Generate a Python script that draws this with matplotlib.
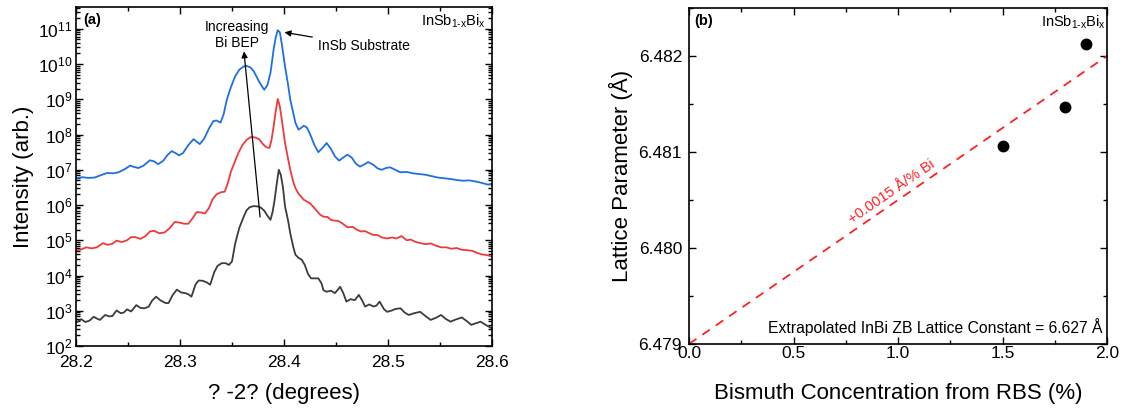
import numpy as np
import matplotlib
matplotlib.use("Agg")
import matplotlib.pyplot as plt
from matplotlib.ticker import LogLocator, MultipleLocator, NullFormatter, FormatStrFormatter

plt.rcParams["font.family"] = ["Liberation Sans", "DejaVu Sans"]
plt.rcParams["mathtext.fontset"] = "custom"
plt.rcParams["mathtext.rm"] = "Liberation Sans"
plt.rcParams["mathtext.it"] = "Liberation Sans:italic"
plt.rcParams["mathtext.bf"] = "Liberation Sans:bold"

# ---- (a) omega-2theta scans: angle (deg) and log10 intensity ----
blue_x = [28.200, 28.206, 28.212, 28.218, 28.224, 28.230, 28.236, 28.241, 28.247, 28.252,
          28.256, 28.260, 28.265, 28.271, 28.275, 28.279, 28.284, 28.288, 28.292, 28.296,
          28.299, 28.303, 28.308, 28.313, 28.316, 28.319, 28.323, 28.328, 28.332, 28.335,
          28.339, 28.342, 28.345, 28.349, 28.353, 28.357, 28.361, 28.364, 28.368, 28.371,
          28.374, 28.377, 28.381, 28.384, 28.387, 28.390, 28.392, 28.394, 28.396, 28.398,
          28.401, 28.404, 28.406, 28.409, 28.411, 28.414, 28.417, 28.419, 28.422, 28.425,
          28.429, 28.433, 28.437, 28.441, 28.445, 28.449, 28.453, 28.457, 28.461, 28.465,
          28.469, 28.473, 28.477, 28.481, 28.486, 28.490, 28.494, 28.498, 28.502, 28.507,
          28.512, 28.518, 28.524, 28.530, 28.536, 28.542, 28.548, 28.554, 28.560, 28.566,
          28.572, 28.578, 28.584, 28.590, 28.596, 28.600]
blue_log = [6.76, 6.79, 6.77, 6.78, 6.85, 6.91, 6.90, 6.93, 7.02, 7.12,
            7.08, 7.05, 7.12, 7.27, 7.24, 7.16, 7.26, 7.42, 7.53, 7.47,
            7.41, 7.48, 7.70, 7.87, 7.80, 7.73, 7.87, 8.18, 8.38, 8.40,
            8.34, 8.58, 8.99, 9.35, 9.65, 9.84, 9.93, 9.95, 9.90, 9.79,
            9.62, 9.45, 9.27, 9.40, 9.75, 10.41, 10.75, 10.96, 10.90, 10.55,
            9.93, 9.40, 8.99, 8.60, 8.33, 8.14, 8.20, 8.25, 8.20, 8.02,
            7.72, 7.50, 7.62, 7.76, 7.60, 7.38, 7.26, 7.35, 7.43, 7.35,
            7.18, 7.09, 7.15, 7.22, 7.14, 7.04, 7.00, 7.05, 7.07, 7.00,
            6.93, 6.94, 6.90, 6.88, 6.86, 6.82, 6.78, 6.76, 6.74, 6.71,
            6.69, 6.70, 6.67, 6.63, 6.58, 6.60]

red_x = [28.200, 28.205, 28.210, 28.215, 28.220, 28.226, 28.230, 28.235, 28.239, 28.244,
         28.249, 28.253, 28.257, 28.262, 28.267, 28.271, 28.275, 28.280, 28.285, 28.290,
         28.295, 28.300, 28.304, 28.308, 28.312, 28.316, 28.320, 28.324, 28.328, 28.331,
         28.335, 28.339, 28.343, 28.346, 28.349, 28.353, 28.356, 28.360, 28.364, 28.368,
         28.372, 28.376, 28.380, 28.383, 28.386, 28.388, 28.390, 28.392, 28.394, 28.396,
         28.398, 28.401, 28.404, 28.406, 28.409, 28.411, 28.414, 28.417, 28.419, 28.422,
         28.425, 28.429, 28.432, 28.435, 28.438, 28.442, 28.445, 28.448, 28.452, 28.456,
         28.461, 28.466, 28.470, 28.474, 28.478, 28.482, 28.486, 28.490, 28.494, 28.499,
         28.504, 28.508, 28.513, 28.518, 28.522, 28.526, 28.531, 28.536, 28.541, 28.546,
         28.551, 28.556, 28.561, 28.566, 28.571, 28.576, 28.581, 28.586, 28.590, 28.595,
         28.600]
red_log = [4.71, 4.74, 4.80, 4.77, 4.80, 4.92, 4.87, 4.90, 4.99, 4.95,
           5.00, 5.09, 5.09, 5.04, 5.12, 5.25, 5.27, 5.20, 5.22, 5.34,
           5.52, 5.50, 5.47, 5.47, 5.62, 5.80, 5.79, 5.76, 5.92, 6.15,
           6.30, 6.36, 6.38, 6.62, 6.95, 7.25, 7.47, 7.70, 7.85, 7.93,
           7.92, 7.87, 7.72, 7.64, 7.62, 7.85, 8.23, 8.65, 9.01, 8.80,
           8.40, 7.76, 7.30, 7.00, 6.65, 6.48, 6.32, 6.22, 6.15, 6.10,
           6.05, 5.92, 5.82, 5.72, 5.67, 5.66, 5.58, 5.56, 5.55, 5.48,
           5.37, 5.38, 5.30, 5.25, 5.26, 5.20, 5.15, 5.15, 5.08, 5.05,
           5.08, 5.05, 5.12, 5.00, 5.02, 4.96, 4.92, 4.89, 4.91, 4.85,
           4.80, 4.80, 4.76, 4.78, 4.73, 4.72, 4.70, 4.64, 4.60, 4.58,
           4.54]

black_x = [28.200, 28.205, 28.209, 28.213, 28.217, 28.220, 28.223, 28.228, 28.232, 28.235,
           28.239, 28.243, 28.246, 28.249, 28.253, 28.258, 28.262, 28.266, 28.270, 28.273,
           28.277, 28.281, 28.286, 28.289, 28.293, 28.297, 28.301, 28.305, 28.308, 28.311,
           28.315, 28.318, 28.322, 28.326, 28.329, 28.333, 28.336, 28.340, 28.344, 28.347,
           28.350, 28.353, 28.357, 28.361, 28.364, 28.367, 28.371, 28.375, 28.378, 28.381,
           28.384, 28.387, 28.389, 28.391, 28.393, 28.395, 28.397, 28.399, 28.401, 28.404,
           28.406, 28.409, 28.411, 28.414, 28.417, 28.420, 28.423, 28.426, 28.430, 28.433,
           28.436, 28.438, 28.441, 28.445, 28.449, 28.454, 28.457, 28.460, 28.464, 28.468,
           28.472, 28.475, 28.478, 28.482, 28.486, 28.489, 28.492, 28.496, 28.499, 28.503,
           28.507, 28.512, 28.516, 28.520, 28.525, 28.531, 28.536, 28.541, 28.546, 28.551,
           28.555, 28.560, 28.565, 28.571, 28.576, 28.580, 28.585, 28.589, 28.595, 28.600]
black_log = [2.66, 2.76, 2.68, 2.72, 2.83, 2.78, 2.74, 2.88, 2.84, 2.85,
             3.01, 2.93, 2.95, 3.04, 2.98, 3.16, 3.08, 3.07, 3.12, 3.28,
             3.40, 3.30, 3.22, 3.22, 3.45, 3.60, 3.52, 3.50, 3.47, 3.40,
             3.75, 3.86, 3.85, 3.80, 3.74, 4.10, 4.27, 4.35, 4.35, 4.30,
             4.40, 4.90, 5.35, 5.65, 5.85, 5.94, 5.97, 5.96, 5.92, 5.84,
             5.70, 5.58, 5.80, 6.15, 6.60, 7.00, 6.85, 6.50, 5.96, 5.55,
             5.20, 4.80, 4.59, 4.50, 4.45, 4.30, 4.05, 3.92, 3.92, 3.92,
             3.78, 3.58, 3.54, 3.57, 3.50, 3.68, 3.50, 3.26, 3.33, 3.30,
             3.45, 3.30, 3.12, 3.18, 3.12, 3.15, 3.26, 3.05, 2.97, 3.00,
             3.05, 3.07, 2.95, 2.88, 2.93, 2.97, 2.85, 2.74, 2.80, 2.88,
             2.78, 2.69, 2.75, 2.81, 2.70, 2.60, 2.65, 2.69, 2.58, 2.50]

# ---- (b) lattice parameter vs Bi concentration ----
bi_conc = [1.5, 1.8, 1.9]             # %
lattice = [6.48106, 6.48147, 6.48212]  # Angstrom
fit_intercept = 6.479                  # Angstrom
fit_slope = 0.0015                     # Angstrom per % Bi
fit_x = [0.0, 2.0]

BLUE = "#1f6fe0"
RED = "#f03a3a"
GREY = "#3c3c3c"

fig = plt.figure(figsize=(11.22, 4.08), dpi=100)
axa = fig.add_axes([76 / 1122, 1 - 346 / 408, (492 - 76) / 1122, (346 - 7) / 408])
axb = fig.add_axes([689 / 1122, 1 - 344 / 408, (1107 - 689) / 1122, (344 - 8) / 408])

for ax in (axa, axb):
    for s in ax.spines.values():
        s.set_linewidth(1.2)
    ax.tick_params(which="both", direction="in", top=True, right=True, width=1.0,
                   labelsize=12.5, pad=4)
    ax.tick_params(which="major", length=5)
    ax.tick_params(which="minor", length=3)
axa.tick_params(axis="x", which="both", pad=6.5)
axa.tick_params(axis="y", which="both", pad=2.5)
axb.tick_params(axis="x", which="both", pad=1.5)
axb.tick_params(axis="y", which="both", pad=5)

# panel (a)
axa.plot(black_x, 10 ** np.array(black_log), color=GREY, lw=1.3)
axa.plot(red_x, 10 ** np.array(red_log), color=RED, lw=1.3)
axa.plot(blue_x, 10 ** np.array(blue_log), color=BLUE, lw=1.3)
axa.set_yscale("log")
axa.set_xlim(28.2, 28.6)
axa.set_ylim(1e2, 10 ** 11.62)
axa.xaxis.set_major_locator(MultipleLocator(0.1))
axa.xaxis.set_minor_locator(MultipleLocator(0.05))
axa.xaxis.set_major_formatter(FormatStrFormatter("%.1f"))
axa.yaxis.set_major_locator(LogLocator(base=10, numticks=20))
axa.yaxis.set_minor_locator(LogLocator(base=10, subs=np.arange(2, 10), numticks=20))
axa.yaxis.set_minor_formatter(NullFormatter())
axa.set_xlabel("? -2? (degrees)", fontsize=16)
axa.set_ylabel("Intensity (arb.)", fontsize=16)
axa.xaxis.set_label_coords(0.5, (346 - 383) / 339)
axa.yaxis.set_label_coords((34 - 76) / 416, 0.5)

axa.text(0.017, 0.962, "(a)", transform=axa.transAxes, fontsize=10.5,
         fontweight="bold", ha="left", va="center")
axa.text(0.985, 0.958, r"InSb$_{\mathrm{1\text{-}x}}$Bi$_{\mathrm{x}}$", transform=axa.transAxes,
         fontsize=10.5, ha="right", va="center")
axa.text(28.355, 10 ** 10.82, "Increasing\nBi BEP", fontsize=10, ha="center",
         va="center", linespacing=1.15)
axa.annotate("", xy=(28.3615, 10 ** 10.36), xytext=(28.377, 10 ** 5.66),
             arrowprops=dict(arrowstyle="-|>", color="black", lw=0.9,
                             mutation_scale=9, shrinkA=0, shrinkB=0))
axa.annotate("InSb Substrate", xy=(28.4005, 10 ** 10.90), xytext=(28.4325, 10 ** 10.52),
             fontsize=10, ha="left", va="center",
             arrowprops=dict(arrowstyle="-|>", color="black", lw=0.9,
                             mutation_scale=9, shrinkA=2, shrinkB=0))

# panel (b)
fit_y = [fit_intercept + fit_slope * v for v in fit_x]
axb.plot(fit_x, fit_y, color="#ff2020", lw=1.3, ls=(0, (5, 4)))
axb.plot(bi_conc, lattice, "o", color="black", ms=7.5)
axb.set_xlim(0, 2.0)
axb.set_ylim(6.479, 6.4825)
axb.xaxis.set_major_locator(MultipleLocator(0.5))
axb.xaxis.set_minor_locator(MultipleLocator(0.25))
axb.xaxis.set_major_formatter(FormatStrFormatter("%.1f"))
axb.yaxis.set_major_locator(MultipleLocator(0.001))
axb.yaxis.set_minor_locator(MultipleLocator(0.0005))
axb.yaxis.set_major_formatter(FormatStrFormatter("%.3f"))
axb.set_xlabel("Bismuth Concentration from RBS (%)", fontsize=16)
axb.set_ylabel("Lattice Parameter (Å)", fontsize=16)
axb.xaxis.set_label_coords(0.5, (344 - 383) / 336)
axb.yaxis.set_label_coords((633 - 689) / 418, 0.5)

axb.text(0.012, 0.962, "(b)", transform=axb.transAxes, fontsize=10.5,
         fontweight="bold", ha="left", va="center")
axb.text(0.998, 0.958, r"InSb$_{\mathrm{1\text{-}x}}$Bi$_{\mathrm{x}}$", transform=axb.transAxes,
         fontsize=10.5, ha="right", va="center")
axb.text(0.99, 0.05, "Extrapolated InBi ZB Lattice Constant = 6.627 Å",
         transform=axb.transAxes, fontsize=11.3, ha="right", va="center")
lx = 0.99
axb.text(lx, fit_intercept + fit_slope * lx + 0.00004, "+0.0015 Å/% Bi", color="#ff2020",
         fontsize=10.5, ha="center", va="bottom", rotation=np.degrees(np.arctan(fit_slope)),
         transform_rotates_text=True, rotation_mode="anchor")

fig.savefig("out.png", dpi=100)
